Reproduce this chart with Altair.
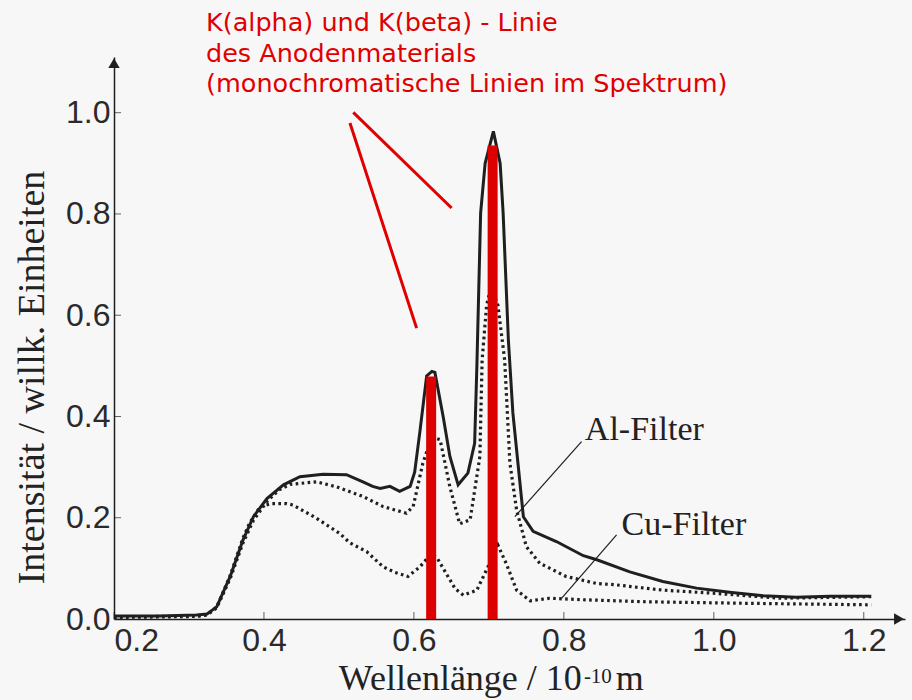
import altair as alt
import pandas as pd

# ---- data ----
solid_x = [0.200, 0.260, 0.310, 0.324, 0.337, 0.355, 0.372, 0.386, 0.404, 0.426, 0.448, 0.479, 0.510,
           0.532, 0.545, 0.555, 0.568, 0.581, 0.595, 0.601, 0.608, 0.617, 0.624, 0.628, 0.639, 0.648,
           0.659, 0.672, 0.681, 0.684, 0.689, 0.695, 0.706, 0.715, 0.719, 0.726, 0.732, 0.741, 0.746,
           0.759, 0.790, 0.826, 0.844, 0.888, 0.932, 0.977, 1.021, 1.066, 1.110, 1.155, 1.210]
solid_y = [0.006, 0.006, 0.008, 0.010, 0.024, 0.084, 0.156, 0.202, 0.238, 0.265, 0.281, 0.286, 0.285,
           0.271, 0.262, 0.258, 0.262, 0.252, 0.262, 0.290, 0.370, 0.480, 0.489, 0.487, 0.400, 0.321,
           0.265, 0.288, 0.347, 0.500, 0.802, 0.900, 0.963, 0.900, 0.802, 0.551, 0.407, 0.275, 0.202,
           0.173, 0.153, 0.125, 0.117, 0.093, 0.074, 0.061, 0.053, 0.046, 0.043, 0.045, 0.045]

al_x = [0.200, 0.310, 0.324, 0.337, 0.355, 0.372, 0.386, 0.404, 0.420, 0.435, 0.470, 0.497, 0.532,
        0.559, 0.590, 0.599, 0.612, 0.624, 0.635, 0.648, 0.661, 0.675, 0.688, 0.691, 0.697, 0.703,
        0.712, 0.721, 0.728, 0.737, 0.750, 0.768, 0.803, 0.844, 0.866, 0.932, 0.999, 1.088, 1.210]
al_y = [0.004, 0.006, 0.008, 0.022, 0.080, 0.150, 0.195, 0.232, 0.255, 0.266, 0.271, 0.261, 0.242,
        0.222, 0.209, 0.222, 0.308, 0.360, 0.354, 0.261, 0.188, 0.196, 0.321, 0.512, 0.620, 0.657,
        0.620, 0.512, 0.308, 0.215, 0.143, 0.110, 0.084, 0.070, 0.068, 0.057, 0.051, 0.041, 0.044]

cu_x = [0.200, 0.310, 0.324, 0.337, 0.355, 0.372, 0.381, 0.395, 0.410, 0.430, 0.439, 0.470, 0.501,
        0.515, 0.537, 0.559, 0.575, 0.592, 0.608, 0.622, 0.630, 0.643, 0.655, 0.666, 0.684, 0.701,
        0.712, 0.723, 0.737, 0.755, 0.781, 0.826, 0.910, 1.043, 1.210]
cu_y = [0.003, 0.005, 0.008, 0.024, 0.086, 0.160, 0.190, 0.222, 0.228, 0.228, 0.225, 0.199, 0.169,
        0.150, 0.133, 0.103, 0.092, 0.084, 0.103, 0.127, 0.123, 0.090, 0.060, 0.047, 0.057, 0.110,
        0.146, 0.110, 0.057, 0.036, 0.041, 0.038, 0.034, 0.031, 0.028]

line_pos = [0.623, 0.705]          # K(beta), K(alpha)
line_top = [0.479, 0.935]

x_ticks = [0.2, 0.4, 0.6, 0.8, 1.0, 1.2]
y_ticks = [0.0, 0.2, 0.4, 0.6, 0.8, 1.0]

red_text = ["K(alpha) und K(beta) - Linie", "des Anodenmaterials",
            "(monochromatische Linien im Spektrum)"]
red_text_x = [0.3227, 0.3227, 0.3227]
red_text_y = [1.162, 1.101, 1.041]

red_lead_x1 = [0.5147, 0.5191]
red_lead_y1 = [0.9796, 1.0006]
red_lead_x2 = [0.6036, 0.6503]
red_lead_y2 = [0.5745, 0.8117]

filter_labels = ["Al-Filter", "Cu-Filter"]
filter_lab_x = [0.828, 0.877]
filter_lab_y = [0.354, 0.166]
lead_x1 = [0.8236, 0.8703]
lead_y1 = [0.3504, 0.1660]
lead_x2 = [0.7347, 0.7969]
lead_y2 = [0.2022, 0.0409]

# x-axis title pieces: main text (right-aligned), exponent and unit (left-aligned)
xtitle_main = "Wellenlänge / 10"
xtitle_main_x, xtitle_main_y = 0.8240, -0.1403
xtitle_rest = ["-10", "m"]
xtitle_rest_x = [0.8267, 0.8693]
xtitle_rest_y = [-0.1265, -0.1403]
xtitle_rest_size = [21, 36]

X_MIN, X_MAX = 0.2, 1.255
Y_MIN, Y_MAX = 0.0, 1.11

# ---- build tables ----
solid_df = pd.DataFrame({"x": solid_x, "y": solid_y, "o": range(len(solid_x))})
dot_df = pd.concat([
    pd.DataFrame({"x": al_x, "y": al_y, "s": "Al-Filter", "o": range(len(al_x))}),
    pd.DataFrame({"x": cu_x, "y": cu_y, "s": "Cu-Filter", "o": range(len(cu_x))}),
])
bars_df = pd.DataFrame({"x": line_pos, "y": [0.0, 0.0], "y2": line_top})
red_txt_df = pd.DataFrame({"x": red_text_x, "y": red_text_y, "t": red_text})
red_lead_df = pd.DataFrame({"x": red_lead_x1, "y": red_lead_y1, "x2": red_lead_x2, "y2": red_lead_y2})
flab_df = pd.DataFrame({"x": filter_lab_x, "y": filter_lab_y, "t": filter_labels})
lead_df = pd.DataFrame({"x": lead_x1, "y": lead_y1, "x2": lead_x2, "y2": lead_y2})
xt_df = pd.DataFrame({"x": x_ticks, "y": [0.0] * len(x_ticks)})
yt_df = pd.DataFrame({"x": [X_MIN] * len(y_ticks), "y": y_ticks})
arrow_up_df = pd.DataFrame({"x": [X_MIN], "y": [Y_MAX - 0.012]})
arrow_rt_df = pd.DataFrame({"x": [X_MAX - 0.008], "y": [0.0]})
xtm_df = pd.DataFrame({"x": [xtitle_main_x], "y": [xtitle_main_y], "t": [xtitle_main]})
xtr_df = pd.DataFrame({"x": xtitle_rest_x, "y": xtitle_rest_y, "t": xtitle_rest, "fs": xtitle_rest_size})

INK = "#1f1f1f"
RED = "#e00000"

xs = alt.Scale(domain=[X_MIN, X_MAX], nice=False, zero=False)
ys = alt.Scale(domain=[Y_MIN, Y_MAX], nice=False, zero=False)

X = alt.X("x:Q", scale=xs, axis=alt.Axis(
    values=x_ticks, format=".1f", ticks=False, grid=False,
    labelFont="Liberation Sans", labelFontSize=32, labelColor="#2a2a2a", labelPadding=6,
    domainColor=INK, domainWidth=1.5, title=""))
Y = alt.Y("y:Q", scale=ys, axis=alt.Axis(
    values=y_ticks, format=".1f", ticks=False, grid=False,
    labelFont="Liberation Sans", labelFontSize=32, labelColor="#2a2a2a", labelPadding=4,
    domainColor=INK, domainWidth=1.5,
    title="Intensität / willk. Einheiten", titleFont="Liberation Serif", titleFontSize=38,
    titleFontWeight="normal", titleColor="#222222", titleAngle=-90,
    titleX=-71, titleY=320, titleBaseline="alphabetic", titleAlign="center"))

base_axes = alt.Chart(solid_df).mark_line(strokeWidth=3, color=INK).encode(
    x=X, y=Y, order="o:Q")

dotted = alt.Chart(dot_df).mark_line(strokeWidth=3.2, color=INK, strokeDash=[2.6, 3.4]).encode(
    x=alt.X("x:Q", scale=xs), y=alt.Y("y:Q", scale=ys), detail="s:N", order="o:Q")

bars = alt.Chart(bars_df).mark_rule(strokeWidth=10, color="#dd0000", strokeCap="butt").encode(
    x=alt.X("x:Q", scale=xs), y=alt.Y("y:Q", scale=ys), y2="y2:Q")

xticks = alt.Chart(xt_df).mark_tick(orient="vertical", size=7, thickness=1, color=INK, yOffset=-3.5).encode(
    x=alt.X("x:Q", scale=xs), y=alt.Y("y:Q", scale=ys))
yticks = alt.Chart(yt_df).mark_tick(orient="horizontal", size=7, thickness=1, color=INK, xOffset=3.5).encode(
    x=alt.X("x:Q", scale=xs), y=alt.Y("y:Q", scale=ys))

arrow_up = alt.Chart(arrow_up_df).mark_point(shape="triangle-up", filled=True, size=130, color=INK, opacity=1).encode(
    x=alt.X("x:Q", scale=xs), y=alt.Y("y:Q", scale=ys))
arrow_rt = alt.Chart(arrow_rt_df).mark_point(shape="triangle-right", filled=True, size=130, color=INK, opacity=1).encode(
    x=alt.X("x:Q", scale=xs), y=alt.Y("y:Q", scale=ys))

red_txt = alt.Chart(red_txt_df).mark_text(align="left", baseline="alphabetic", font="DejaVu Sans",
                                          fontSize=25.5, color=RED).encode(
    x=alt.X("x:Q", scale=xs), y=alt.Y("y:Q", scale=ys), text="t:N")
red_lead = alt.Chart(red_lead_df).mark_rule(strokeWidth=3, color=RED).encode(
    x=alt.X("x:Q", scale=xs), y=alt.Y("y:Q", scale=ys), x2="x2:Q", y2="y2:Q")

flab = alt.Chart(flab_df).mark_text(align="left", baseline="alphabetic", font="Liberation Serif",
                                    fontSize=34, color="#222222").encode(
    x=alt.X("x:Q", scale=xs), y=alt.Y("y:Q", scale=ys), text="t:N")
leads = alt.Chart(lead_df).mark_rule(strokeWidth=1.2, color=INK).encode(
    x=alt.X("x:Q", scale=xs), y=alt.Y("y:Q", scale=ys), x2="x2:Q", y2="y2:Q")

xtitle_main_layer = alt.Chart(xtm_df).mark_text(align="right", baseline="alphabetic",
                                                font="Liberation Serif", fontSize=36,
                                                color="#222222").encode(
    x=alt.X("x:Q", scale=xs), y=alt.Y("y:Q", scale=ys), text="t:N")
xtitle_rest_layer = alt.Chart(xtr_df).mark_text(align="left", baseline="alphabetic",
                                                font="Liberation Serif", color="#222222").encode(
    x=alt.X("x:Q", scale=xs), y=alt.Y("y:Q", scale=ys), text="t:N",
    size=alt.Size("fs:Q", scale=None, legend=None))

chart = alt.layer(
    base_axes, dotted, bars, xticks, yticks, arrow_up, arrow_rt, red_txt, red_lead, flab, leads,
    xtitle_main_layer, xtitle_rest_layer
).properties(
    width=791, height=562,
    autosize=alt.AutoSizeParams(type="none"),
    padding={"left": 114, "top": 57, "right": 7, "bottom": 81},
    background="#f7f7f8",
).configure_view(stroke=None)

chart.save("out.html", embed_options={"renderer": "svg", "actions": False})
